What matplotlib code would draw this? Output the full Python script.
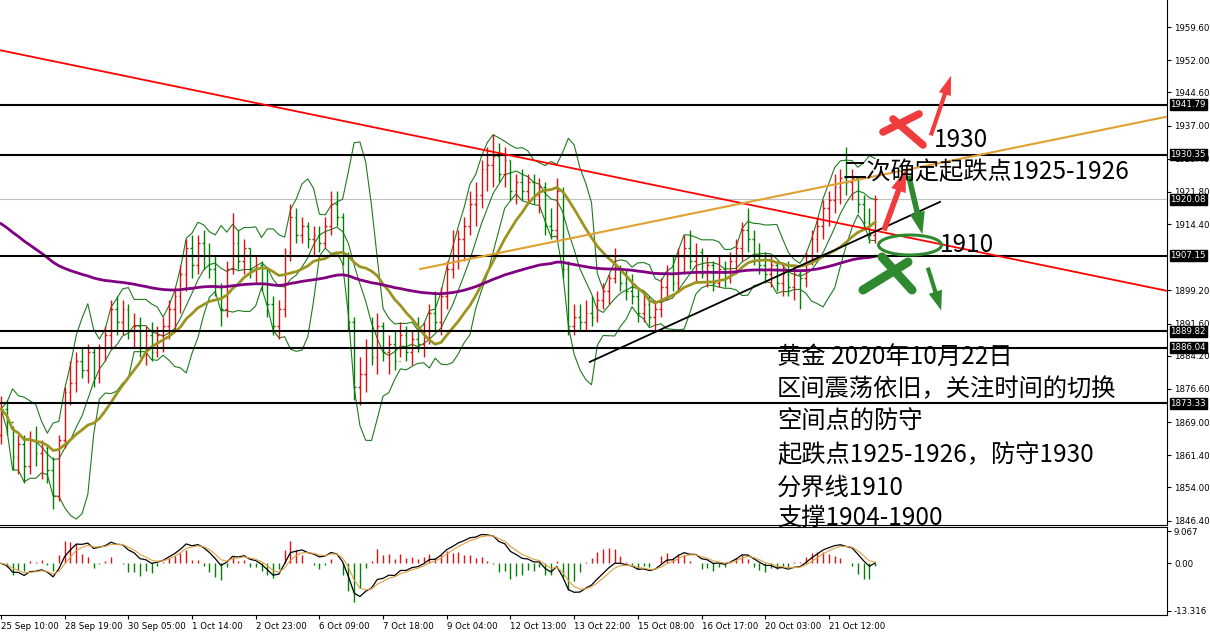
import matplotlib
matplotlib.use("Agg")
import matplotlib.pyplot as plt
import numpy as np
import pandas as pd
from matplotlib.lines import Line2D
from matplotlib.patches import Ellipse, FancyArrowPatch
from matplotlib.transforms import blended_transform_factory

plt.rcParams['font.family'] = ['Noto Sans CJK SC', 'DejaVu Sans']

# gold, 3-hour bars (25 Sep - 22 Oct 2020)
close = [
    1872, 1869, 1861, 1864, 1859, 1865, 1862, 1863, 1858, 1852,
    1865, 1876, 1878, 1883, 1881, 1885, 1879, 1886, 1889, 1895,
    1892, 1895, 1890, 1891, 1886, 1889, 1885, 1889, 1891, 1895,
    1898, 1903, 1909, 1905, 1910, 1907, 1904, 1900, 1895, 1904,
    1910, 1906, 1909, 1904, 1905, 1901, 1896, 1891, 1895, 1908,
    1916, 1912, 1914, 1911, 1912, 1910, 1914, 1919, 1916, 1907,
    1892, 1877, 1880, 1886, 1884, 1891, 1885, 1887, 1883, 1889,
    1885, 1888, 1887, 1890, 1894, 1892, 1898, 1904, 1906, 1911,
    1914, 1919, 1921, 1927, 1928, 1930, 1926, 1929, 1922, 1924,
    1922, 1924, 1921, 1923, 1914, 1913, 1922, 1904, 1891, 1893,
    1892, 1894, 1893, 1897, 1899, 1902, 1904, 1901, 1899, 1898,
    1894, 1896, 1893, 1895, 1900, 1903, 1901, 1907, 1909, 1906,
    1908, 1903, 1905, 1901, 1904, 1902, 1906, 1909, 1913, 1911,
    1907, 1905, 1903, 1905, 1901, 1903, 1900, 1903, 1902, 1907,
    1911, 1914, 1918, 1920, 1923, 1925, 1924, 1925, 1919, 1915,
    1912, 1920.08]
high = [
    1875, 1874, 1868, 1866, 1866, 1867, 1868, 1865, 1864, 1861,
    1866, 1877, 1883, 1885, 1886, 1887, 1886, 1887, 1891, 1897,
    1898, 1897, 1896, 1894, 1893, 1891, 1892, 1891, 1893, 1897,
    1900, 1905, 1911, 1912, 1912, 1913, 1910, 1907, 1901, 1906,
    1917, 1913, 1911, 1909, 1907, 1906, 1904, 1898, 1897, 1909,
    1919, 1918, 1916, 1915, 1914, 1914, 1916, 1922, 1922, 1917,
    1908, 1893, 1884, 1888, 1893, 1894, 1892, 1889, 1890, 1892,
    1891, 1890, 1893, 1892, 1896, 1899, 1900, 1906, 1913, 1913,
    1916, 1922, 1924, 1929, 1932, 1935, 1933, 1932, 1929, 1926,
    1927, 1926, 1926, 1925, 1924, 1918, 1925, 1923, 1906, 1896,
    1896, 1897, 1898, 1899, 1901, 1903, 1909, 1905, 1904, 1903,
    1900, 1899, 1898, 1897, 1902, 1905, 1907, 1909, 1912, 1913,
    1910, 1909, 1907, 1906, 1907, 1906, 1908, 1911, 1915, 1918,
    1913, 1910, 1908, 1907, 1906, 1905, 1906, 1905, 1904, 1908,
    1913, 1916, 1920, 1922, 1926, 1927, 1932, 1927, 1925, 1921,
    1918, 1921]
low = [
    1864, 1866, 1858, 1857, 1855, 1857, 1859, 1856, 1855, 1849,
    1851, 1863, 1873, 1876, 1879, 1878, 1877, 1878, 1883, 1886,
    1889, 1889, 1888, 1886, 1884, 1882, 1883, 1884, 1885, 1888,
    1890, 1894, 1899, 1902, 1903, 1904, 1902, 1898, 1891, 1893,
    1903, 1904, 1903, 1902, 1901, 1899, 1893, 1889, 1888, 1893,
    1906, 1910, 1910, 1909, 1907, 1908, 1909, 1912, 1914, 1905,
    1890, 1874, 1873, 1876, 1882, 1880, 1883, 1880, 1881, 1884,
    1883, 1882, 1885, 1884, 1887, 1890, 1889, 1895, 1902, 1904,
    1906, 1912, 1914, 1918, 1922, 1923, 1924, 1923, 1920, 1919,
    1920, 1919, 1919, 1917, 1912, 1911, 1911, 1902, 1889, 1889,
    1890, 1890, 1891, 1892, 1895, 1896, 1901, 1899, 1897, 1896,
    1892, 1892, 1891, 1890, 1893, 1897, 1899, 1899, 1903, 1904,
    1901, 1902, 1900, 1899, 1900, 1900, 1901, 1903, 1906, 1908,
    1905, 1903, 1901, 1900, 1899, 1898, 1898, 1897, 1895, 1900,
    1905, 1908, 1911, 1914, 1917, 1919, 1921, 1920, 1917, 1913,
    1910, 1910]
first_open = 1866
purple_start = 1914.5

time_labels = ['25 Sep 10:00', '28 Sep 19:00', '30 Sep 05:00', '1 Oct 14:00',
               '2 Oct 23:00', '6 Oct 09:00', '7 Oct 18:00', '9 Oct 04:00',
               '12 Oct 13:00', '13 Oct 22:00', '15 Oct 08:00', '16 Oct 17:00',
               '20 Oct 03:00', '21 Oct 12:00']
label_step = 11

price_ticks = [1959.60, 1952.00, 1944.60, 1937.00, 1929.40, 1921.80, 1914.40,
               1899.20, 1891.60, 1884.20, 1876.60, 1869.00, 1861.40, 1854.00, 1846.40]
levels = [1941.79, 1930.35, 1907.15, 1889.82, 1886.04, 1873.33]
last_price = 1920.08
macd_ticks = [9.067, 0.0, -13.316]
macd_labels = ['9.067', '0.00', '-13.316']

# drawn trend lines: (bar, bar), (price, price)
red_line = ([-0.2, 201.4], [1954.3, 1899.1])
orange_line = ([72.4, 201.2], [1904.1, 1939.0])
black_line = ([101.7, 162.2], [1882.8, 1919.5])

notes = ['黄金 2020年10月22日', '区间震荡依旧，关注时间的切换', '空间点的防守',
         '起跌点1925-1926，防守1930', '分界线1910', '支撑1904-1900']

# ---- indicators
c = pd.Series(close, dtype=float)
n = len(c)
idx = np.arange(n)
opens = np.r_[first_open, c.values[:-1]]
ma = c.rolling(16, min_periods=1).mean()
mid = c.rolling(7, min_periods=1).mean()
sd = c.rolling(7, min_periods=1).std(ddof=0)
bb_up = mid + 2 * sd
bb_dn = mid - 2 * sd
purple = [purple_start]
for v in close[1:]:
    purple.append(purple[-1] + 0.02 * (v - purple[-1]))

macd = c.ewm(span=4, adjust=False).mean() - c.ewm(span=9, adjust=False).mean()
signal = macd.ewm(span=3, adjust=False).mean()
hist = (macd - signal) * 3

W, H = 1210, 635
fig = plt.figure(figsize=(W / 100, H / 100), dpi=100)
ax = fig.add_axes([0, 110 / H, 1167 / W, 525 / H])
ax2 = fig.add_axes([0, 20 / H, 1167 / W, 88 / H])

RED = '#e01010'
GREEN = '#008000'
cols = [RED if c.values[i] >= opens[i] else GREEN for i in range(n)]

ax.vlines(idx, low, high, colors=cols, lw=1, zorder=3)
ax.hlines(opens, idx - 0.3, idx, colors=cols, lw=1, zorder=3)
ax.hlines(c.values, idx, idx + 0.3, colors=cols, lw=1, zorder=3)

ax.plot(idx, bb_up, color='#1f7a1f', lw=0.8, zorder=2)
ax.plot(idx, mid, color='#1f7a1f', lw=0.8, zorder=2)
ax.plot(idx, bb_dn, color='#1f7a1f', lw=0.8, zorder=2)
ax.plot(idx, ma, color='#9c9420', lw=2, zorder=4)
ax.plot(idx, purple, color='#800080', lw=2, zorder=4)

for lv in levels:
    ax.axhline(lv, color='black', lw=1.5, zorder=5)
ax.axhline(last_price, color='#c0c0c0', lw=0.8, zorder=1)

ax.plot(*red_line, color='#ff0000', lw=1.3, zorder=6)
ax.plot(*orange_line, color='#e0a030', lw=1.5, zorder=6)
ax.plot(*black_line, color='black', lw=1.3, zorder=6)

ax.set_xlim(-0.17, 201.4)
ax.set_ylim(1845.4, 1965.8)
ax.yaxis.tick_right()
ax.set_yticks(price_ticks)
ax.set_yticklabels(['%.2f' % t for t in price_ticks], fontsize=6.2, family='DejaVu Sans')
ax.tick_params(axis='y', direction='out', length=3, pad=2)
ax.set_xticks([])
for s in ['left', 'top']:
    ax.spines[s].set_visible(False)

tr = blended_transform_factory(ax.transAxes, ax.transData)
for lv in levels + [last_price]:
    ax.text(1.003, lv, '%.2f' % lv, transform=tr, fontsize=6.2, color='white',
            family='DejaVu Sans', va='center', ha='left', zorder=10,
            bbox=dict(boxstyle='square,pad=0.1', fc='black', ec='black'))

# MACD panel
ax2.vlines(idx, 0, hist, colors=[RED if h > 0 else GREEN for h in hist], lw=1)
ax2.plot(idx, macd, color='black', lw=0.9)
ax2.plot(idx, signal, color='#e0a040', lw=0.8)
ax2.set_xlim(-0.17, 201.4)
ax2.set_ylim(-14.44, 10.19)
ax2.yaxis.tick_right()
ax2.set_yticks(macd_ticks)
ax2.set_yticklabels(macd_labels, fontsize=6.2, family='DejaVu Sans')
ax2.set_xticks(np.arange(len(time_labels)) * label_step)
ax2.set_xticklabels(time_labels, fontsize=6.2, family='DejaVu Sans', ha='left')
ax2.tick_params(axis='both', direction='out', length=3, pad=2)
ax2.spines['left'].set_visible(False)


def fp(x, y):
    return (x / W, 1 - y / H)


def stroke(p0, p1, color, lw):
    fig.add_artist(Line2D([p0[0] / W, p1[0] / W], [1 - p0[1] / H, 1 - p1[1] / H],
                          transform=fig.transFigure, color=color, lw=lw,
                          solid_capstyle='round', zorder=20))


def arrow(p0, p1, color, tail, head_w, head_l):
    fig.add_artist(FancyArrowPatch(fp(*p0), fp(*p1), transform=fig.transFigure,
                                   arrowstyle='simple,head_width=%g,head_length=%g,tail_width=%g'
                                   % (head_w, head_l, tail),
                                   mutation_scale=1, color=color, lw=0, zorder=20))


PEN_RED = '#f03c3c'
PEN_GREEN = '#2f8a2f'
stroke((883, 132), (919, 114), PEN_RED, 5.5)
stroke((893, 119), (923, 145), PEN_RED, 5.5)
arrow((930, 138), (952, 73), PEN_RED, 3, 9, 14)
arrow((883, 233), (907, 167), PEN_RED, 4, 11, 16)

arrow((908, 173), (923, 237), PEN_GREEN, 4, 11, 16)
fig.add_artist(Ellipse(fp(910, 245), 63 / W, 20 / H, transform=fig.transFigure,
                       fill=False, ec=PEN_GREEN, lw=2.2, zorder=20))
stroke((863, 290), (908, 262), PEN_GREEN, 6.5)
stroke((882, 257), (912, 290), PEN_GREEN, 6.5)
arrow((927, 265), (942, 313), PEN_GREEN, 3, 10, 14)

fig.text(*fp(934, 140), '1930', fontsize=17.5, va='center', ha='left', zorder=21)
fig.text(*fp(940, 245), '1910', fontsize=17.5, va='center', ha='left', zorder=21)
fig.text(*fp(843, 172), '二次确定起跌点1925-1926', fontsize=17.5, va='center', ha='left', zorder=21)

note_y = [358, 389, 422, 455, 488, 518]
for t, yy in zip(notes, note_y):
    fig.text(*fp(777, yy), t, fontsize=17.5, va='center', ha='left', zorder=21)

fig.savefig('out.png', dpi=100)
